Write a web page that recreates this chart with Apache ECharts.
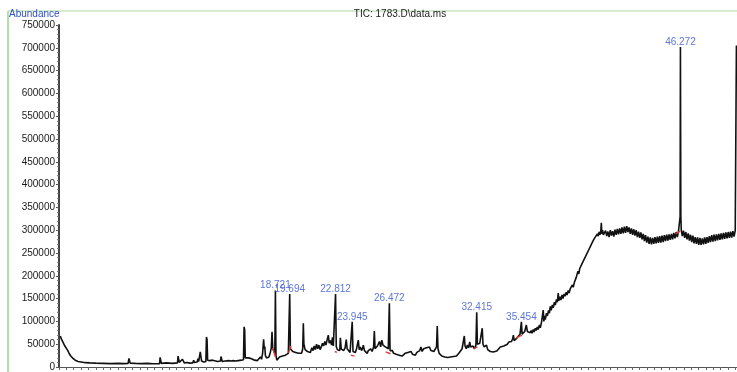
<!DOCTYPE html>
<html>
<head>
<meta charset="utf-8">
<script src="https://cdn.jsdelivr.net/npm/echarts@6/dist/echarts.min.js"></script>
<style>
  html, body { margin: 0; padding: 0; background: #ffffff; }
  #chart { width: 737px; height: 372px; }
</style>
</head>
<body>
<div id="chart"></div>
<script>
// Total ion chromatogram: [retention time (min), abundance]
const ticTrace = [
  [4.09, 68000], [4.15, 62000], [4.20, 66000], [4.26, 55000], [4.33, 58000], [4.40, 46000],
  [4.50, 44000], [4.60, 36000], [4.70, 29000], [4.80, 24000], [4.95, 19000], [5.10, 15000],
  [5.30, 12000], [5.50, 11000], [5.80, 9500], [6.10, 9000], [6.50, 8500], [7.00, 8000],
  [7.50, 7500], [8.00, 8000], [8.40, 7500], [8.70, 8000], [8.76, 19000], [8.80, 18000],
  [8.84, 8500], [9.20, 8000], [9.60, 7500], [10.00, 8000], [10.40, 7000], [10.84, 7500],
  [10.88, 21000], [10.92, 20000], [10.96, 8000], [11.30, 9000], [11.70, 8000], [12.06, 9000],
  [12.10, 24000], [12.14, 22000], [12.18, 10000], [12.30, 11000], [12.40, 17000], [12.46, 16000],
  [12.52, 9000], [12.70, 10000], [12.90, 8500], [13.10, 9000], [13.16, 15000], [13.20, 10000],
  [13.40, 11000], [13.45, 18000], [13.50, 12000], [13.57, 14000], [13.61, 33000], [13.65, 30000],
  [13.70, 13000], [13.85, 11000], [13.99, 12000], [14.03, 66000], [14.07, 60000], [14.11, 15000],
  [14.25, 14000], [14.35, 16000], [14.45, 15000], [14.55, 13000], [14.80, 12000], [14.98, 13000],
  [15.02, 23000], [15.06, 21000], [15.10, 12000], [15.30, 13000], [15.55, 14000], [15.62, 17000],
  [15.70, 13000], [15.80, 15000], [15.86, 14000], [16.00, 13000], [16.20, 14000], [16.40, 15000],
  [16.55, 16000], [16.59, 88000], [16.63, 82000], [16.67, 20000], [16.80, 24000], [16.90, 20000],
  [17.00, 22000], [17.10, 18000], [17.20, 21000], [17.30, 15000], [17.40, 19000], [17.50, 14000],
  [17.60, 18000], [17.70, 22000], [17.78, 17000], [17.85, 30000], [17.92, 61000], [17.96, 40000],
  [18.00, 45000], [18.04, 25000], [18.12, 20000], [18.20, 24000], [18.28, 22000], [18.36, 30000],
  [18.44, 42000], [18.49, 77000], [18.54, 40000], [18.62, 35000], [18.68, 30000], [18.721, 168000],
  [18.76, 25000], [18.82, 15000], [18.90, 18000], [19.00, 22000], [19.10, 19000], [19.20, 24000],
  [19.30, 20000], [19.40, 26000], [19.50, 24000], [19.60, 30000], [19.694, 160000], [19.74, 40000],
  [19.80, 44000], [19.90, 34000], [20.00, 38000], [20.10, 32000], [20.20, 36000], [20.30, 30000],
  [20.40, 34000], [20.50, 30000], [20.58, 40000], [20.62, 96000], [20.66, 50000], [20.74, 38000],
  [20.82, 42000], [20.90, 34000], [21.00, 38000], [21.10, 32000], [21.20, 42000], [21.28, 36000],
  [21.36, 46000], [21.44, 38000], [21.52, 50000], [21.60, 40000], [21.68, 48000], [21.76, 38000],
  [21.84, 44000], [21.92, 52000], [22.00, 46000], [22.08, 56000], [22.16, 48000], [22.24, 60000],
  [22.32, 70000], [22.38, 52000], [22.46, 58000], [22.54, 48000], [22.60, 65000], [22.66, 46000],
  [22.72, 50000], [22.812, 160000], [22.86, 45000], [22.94, 38000], [23.02, 40000], [23.10, 36000],
  [23.14, 64000], [23.20, 40000], [23.28, 44000], [23.36, 36000], [23.46, 42000], [23.54, 60000],
  [23.60, 40000], [23.70, 36000], [23.80, 32000], [23.90, 35000], [23.945, 99000], [24.00, 34000],
  [24.08, 30000], [24.16, 32000], [24.24, 40000], [24.32, 36000], [24.36, 59000], [24.42, 38000],
  [24.50, 44000], [24.58, 36000], [24.66, 42000], [24.70, 48000], [24.78, 36000], [24.88, 40000],
  [24.96, 30000], [25.04, 36000], [25.12, 32000], [25.20, 40000], [25.30, 34000], [25.40, 44000],
  [25.45, 79000], [25.50, 40000], [25.58, 36000], [25.66, 46000], [25.72, 42000], [25.80, 56000],
  [25.88, 44000], [25.96, 59000], [26.04, 48000], [26.12, 52000], [26.20, 44000], [26.30, 46000],
  [26.40, 40000], [26.472, 140000], [26.52, 36000], [26.60, 32000], [26.68, 36000], [26.76, 30000],
  [26.84, 34000], [26.94, 28000], [27.04, 32000], [27.14, 26000], [27.24, 30000], [27.34, 24000],
  [27.44, 28000], [27.54, 30000], [27.64, 26000], [27.74, 32000], [27.84, 28000], [27.94, 34000],
  [28.04, 28000], [28.14, 30000], [28.24, 26000], [28.34, 32000], [28.44, 30000], [28.54, 36000],
  [28.62, 44000], [28.70, 34000], [28.80, 40000], [28.90, 36000], [29.00, 42000], [29.10, 38000],
  [29.20, 44000], [29.30, 36000], [29.40, 40000], [29.50, 34000], [29.60, 38000], [29.68, 44000],
  [29.73, 90000], [29.78, 40000], [29.86, 30000], [29.94, 26000], [30.04, 24000], [30.14, 26000],
  [30.24, 22000], [30.34, 24000], [30.44, 21000], [30.54, 24000], [30.64, 22000], [30.74, 26000],
  [30.84, 23000], [30.94, 25000], [31.04, 24000], [31.14, 28000], [31.24, 32000], [31.34, 36000],
  [31.42, 40000], [31.50, 44000], [31.57, 68000], [31.62, 46000], [31.70, 40000], [31.78, 48000],
  [31.86, 42000], [31.94, 55000], [32.00, 44000], [32.08, 42000], [32.16, 46000], [32.26, 40000],
  [32.36, 48000], [32.415, 120000], [32.46, 50000], [32.54, 46000], [32.62, 52000], [32.70, 48000],
  [32.79, 85000], [32.84, 50000], [32.92, 44000], [33.00, 40000], [33.08, 48000], [33.16, 38000],
  [33.24, 36000], [33.34, 34000], [33.44, 36000], [33.54, 33000], [33.66, 36000], [33.78, 35000],
  [33.90, 38000], [34.02, 44000], [34.14, 42000], [34.26, 46000], [34.38, 48000], [34.50, 50000],
  [34.60, 55000], [34.70, 59000], [34.78, 56000], [34.86, 62000], [34.91, 70000], [34.96, 58000],
  [35.06, 62000], [35.16, 64000], [35.26, 68000], [35.36, 72000], [35.454, 99000], [35.50, 72000],
  [35.58, 75000], [35.68, 78000], [35.79, 92000], [35.86, 78000], [35.96, 76000], [36.06, 75000],
  [36.12, 80000], [36.18, 74000], [36.26, 82000], [36.32, 77000], [36.40, 85000], [36.46, 80000],
  [36.54, 88000], [36.60, 82000], [36.68, 92000], [36.74, 86000], [36.82, 98000], [36.88, 94000],
  [36.94, 125000], [36.98, 100000], [37.04, 112000], [37.08, 104000], [37.16, 118000], [37.22, 112000],
  [37.30, 124000], [37.36, 118000], [37.42, 133000], [37.48, 124000], [37.56, 136000], [37.62, 130000],
  [37.70, 142000], [37.76, 136000], [37.84, 148000], [37.90, 142000], [37.96, 162000], [38.00, 145000],
  [38.08, 154000], [38.14, 147000], [38.22, 158000], [38.28, 150000], [38.36, 160000], [38.42, 155000],
  [38.50, 164000], [38.56, 158000], [38.64, 168000], [38.70, 162000], [38.78, 172000], [38.84, 168000],
  [38.92, 180000], [38.98, 175000], [39.06, 186000], [39.12, 182000], [39.18, 196000], [39.24, 192000],
  [39.30, 210000], [39.36, 204000], [39.42, 216000], [39.48, 212000], [39.54, 224000], [39.60, 220000],
  [39.66, 232000], [39.72, 228000], [39.78, 240000], [39.84, 236000], [39.90, 248000], [39.96, 244000],
  [40.02, 256000], [40.08, 252000], [40.14, 264000], [40.20, 260000], [40.26, 272000], [40.32, 268000],
  [40.38, 280000], [40.44, 276000], [40.50, 286000], [40.56, 282000], [40.62, 292000], [40.68, 287000],
  [40.74, 296000], [40.80, 290000], [40.86, 300000], [40.89, 316000], [40.93, 292000], [40.98, 300000],
  [41.03, 290000], [41.10, 286000], [41.18, 299000], [41.26, 287000], [41.34, 297000], [41.42, 285000],
  [41.50, 300000], [41.58, 288000], [41.66, 298000], [41.74, 286000], [41.82, 301000], [41.90, 290000],
  [41.98, 303000], [42.06, 291000], [42.14, 304000], [42.22, 292000], [42.30, 306000], [42.38, 293000],
  [42.46, 308000], [42.54, 294000], [42.62, 309000], [42.70, 296000], [42.78, 306000], [42.86, 292000],
  [42.94, 304000], [43.02, 290000], [43.10, 302000], [43.18, 288000], [43.26, 300000], [43.34, 285000],
  [43.42, 297000], [43.50, 283000], [43.58, 295000], [43.66, 280000], [43.74, 292000], [43.82, 276000],
  [43.90, 289000], [43.98, 273000], [44.06, 286000], [44.14, 270000], [44.22, 284000], [44.30, 269000],
  [44.38, 283000], [44.46, 270000], [44.54, 285000], [44.62, 271000], [44.70, 286000], [44.78, 272000],
  [44.86, 287000], [44.94, 273000], [45.02, 288000], [45.10, 274000], [45.18, 289000], [45.26, 276000],
  [45.34, 290000], [45.42, 277000], [45.50, 291000], [45.58, 279000], [45.66, 292000], [45.74, 280000],
  [45.82, 294000], [45.90, 282000], [45.98, 296000], [46.06, 285000], [46.14, 298000], [46.22, 294000],
  [46.25, 330000], [46.272, 702000], [46.30, 330000], [46.33, 300000], [46.40, 287000], [46.48, 299000],
  [46.56, 283000], [46.64, 296000], [46.72, 280000], [46.80, 293000], [46.88, 277000], [46.96, 290000],
  [47.04, 274000], [47.12, 288000], [47.20, 271000], [47.28, 285000], [47.36, 270000], [47.44, 284000],
  [47.52, 268000], [47.60, 283000], [47.68, 268000], [47.76, 282000], [47.84, 269000], [47.92, 284000],
  [48.00, 270000], [48.08, 285000], [48.16, 272000], [48.24, 287000], [48.32, 274000], [48.40, 289000],
  [48.48, 275000], [48.56, 290000], [48.64, 276000], [48.72, 291000], [48.80, 278000], [48.88, 292000],
  [48.96, 279000], [49.04, 293000], [49.12, 280000], [49.20, 294000], [49.28, 281000], [49.36, 295000],
  [49.44, 282000], [49.52, 296000], [49.60, 283000], [49.68, 297000], [49.76, 284000], [49.84, 298000],
  [49.92, 286000], [50.00, 299000], [50.05, 300000], [50.08, 705000]
];

// Integrated peaks: retention time and apex abundance
const peakTimes = [18.721, 19.694, 22.812, 23.945, 26.472, 32.415, 35.454, 46.272];
const peakApex  = [168000, 160000, 160000, 99000, 140000, 120000, 99000, 702000];

// Integration baseline ticks: [start time, start abundance, end time, end abundance]
const integrationTicks = [
  [18.53, 42000, 18.72, 22000],
  [19.62, 31000, 19.76, 46000],
  [22.76, 34000, 22.90, 32000],
  [23.85, 26000, 24.10, 24000],
  [26.22, 33000, 26.55, 29000],
  [32.20, 40000, 32.46, 44000],
  [35.10, 64000, 35.50, 70000],
  [45.95, 292000, 46.25, 298000]
];

const yTicks = { min: 0, max: 750000, step: 50000 };
const timeRange = { min: 4.0, max: 50.12, step: 0.5 };

const chartTitle = 'TIC: 1783.D\\data.ms';
const yAxisTitle = 'Abundance';

const FONT = '"Liberation Sans", Arial, sans-serif';

// red integration segments joined into one polyline broken by gaps
const tickSegments = [];
integrationTicks.forEach(function (s) {
  tickSegments.push([s[0], s[1]], [s[2], s[3]], [s[2], null]);
});

const chart = echarts.init(document.getElementById('chart'), null, { renderer: 'canvas' });

chart.setOption({
  animation: false,
  backgroundColor: '#ffffff',
  grid: { left: 59, right: 0, top: 25, bottom: 5, containLabel: false },
  xAxis: {
    type: 'value',
    min: timeRange.min,
    max: timeRange.max,
    interval: timeRange.step,
    axisLine: { show: true, lineStyle: { color: '#555', width: 1 } },
    axisTick: { show: true, length: 3, lineStyle: { color: '#666' } },
    axisLabel: { show: false },
    splitLine: { show: false }
  },
  yAxis: {
    type: 'value',
    min: yTicks.min,
    max: yTicks.max,
    interval: yTicks.step,
    axisLine: { show: true, lineStyle: { color: '#444', width: 2 } },
    axisTick: { show: true, length: 3, lineStyle: { color: '#555' } },
    minorTick: { show: true, splitNumber: 5, length: 2, lineStyle: { color: '#777' } },
    axisLabel: {
      fontSize: 10, color: '#1a1a1a', fontFamily: FONT, margin: 4,
      formatter: function (v) { return String(v); }
    },
    splitLine: { show: false }
  },
  graphic: [
    { type: 'line', shape: { x1: 8, y1: 11, x2: 737, y2: 11 }, style: { stroke: '#d6ecd1', lineWidth: 2 }, silent: true },
    { type: 'line', shape: { x1: 8, y1: 11, x2: 8, y2: 372 }, style: { stroke: '#b6ddac', lineWidth: 2 }, silent: true },
    { type: 'text', left: 9, top: 9, style: { text: yAxisTitle, fill: '#2f4fc4', font: '10px ' + FONT } },
    { type: 'text', x: 400, y: 9, style: { text: chartTitle, fill: '#222', font: '10px ' + FONT, textAlign: 'center' } }
  ],
  series: [
    {
      type: 'line',
      data: ticTrace,
      showSymbol: false,
      symbol: 'none',
      sampling: null,
      lineStyle: { color: '#111', width: 1.6 },
      z: 2
    },
    {
      type: 'line',
      data: tickSegments,
      showSymbol: false,
      symbol: 'none',
      connectNulls: false,
      lineStyle: { color: '#e23a3a', width: 1.4 },
      z: 3
    },
    {
      type: 'scatter',
      data: peakTimes.map(function (t, i) { return [t, peakApex[i]]; }),
      symbolSize: 0,
      label: {
        show: true,
        position: 'top',
        distance: 0,
        fontSize: 10,
        fontFamily: FONT,
        color: '#3553cc',
        formatter: function (p) { return p.value[0].toFixed(3); }
      },
      z: 4
    }
  ]
});
</script>
</body>
</html>
